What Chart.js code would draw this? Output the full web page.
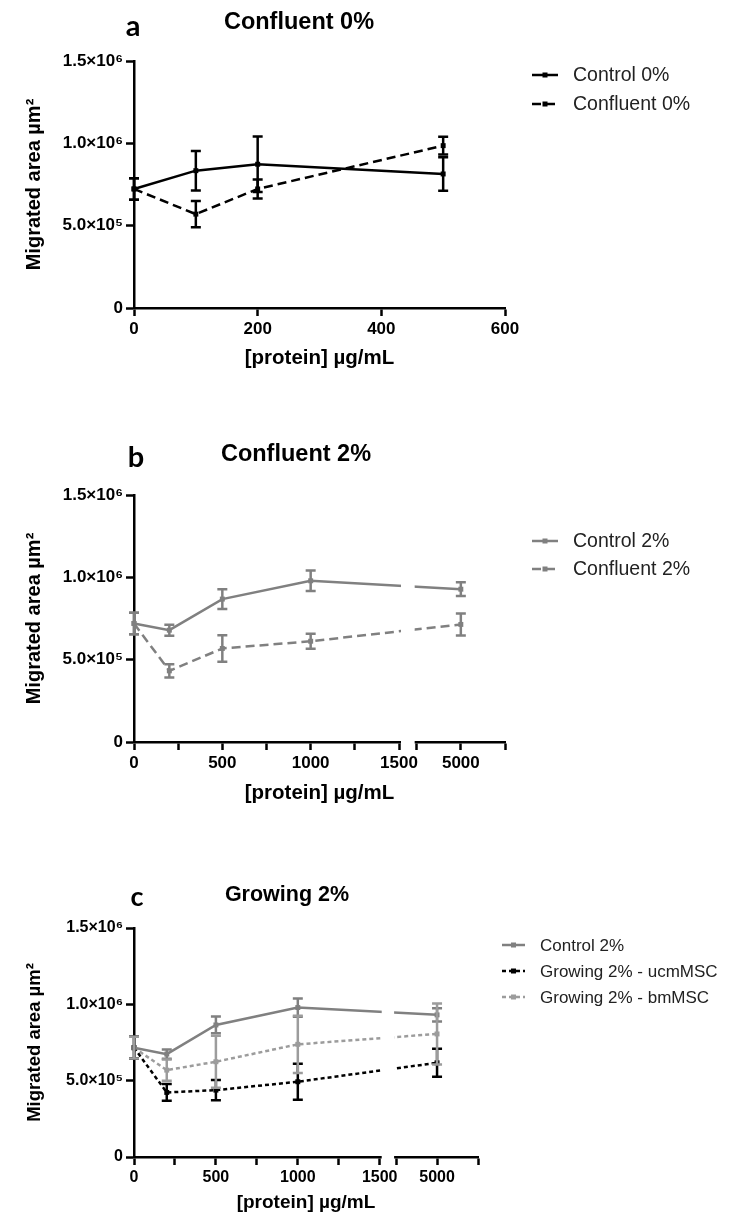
<!DOCTYPE html>
<html>
<head>
<meta charset="utf-8">
<script src="https://cdn.jsdelivr.net/npm/chart.js@4.4.1/dist/chart.umd.min.js"></script>
<style>
  html, body { margin: 0; padding: 0; background: #fff; }
  body { width: 738px; height: 1214px; position: relative; overflow: hidden; }
  canvas { position: absolute; left: 0; }
</style>
</head>
<body>
<canvas id="chartA" width="738" height="380" style="top:0px"></canvas>
<canvas id="chartB" width="738" height="390" style="top:420px"></canvas>
<canvas id="chartC" width="738" height="354" style="top:860px"></canvas>
<script>
// --- data ---
// a: Confluent 0%
const doseA = [0, 100, 200, 500];
const control0 = [723000, 834000, 873000, 814000];
const control0Err = [65000, 120000, 168000, 102000];
const confluent0 = [723000, 570000, 723000, 986000];
const confluent0Err = [65000, 80000, 58000, 54000];

// b: Confluent 2%
const doseB = [0, 200, 500, 1000, 5000];
const control2 = [720000, 679000, 868000, 979000, 928000];
const control2Err = [65000, 33000, 60000, 62000, 42000];
const confluent2 = [720000, 432000, 568000, 612000, 714000];
const confluent2Err = [65000, 40000, 80000, 45000, 67000];

// c: Growing 2%
const controlC = [716000, 674000, 865000, 979000, 931000];
const controlCErr = [71000, 30000, 55000, 60000, 44000];
const ucmMSC = [716000, 423000, 438000, 493000, 617000];
const ucmMSCErr = [71000, 55000, 66000, 118000, 92000];
const bmMSC = [716000, 569000, 624000, 738000, 806000];
const bmMSCErr = [71000, 70000, 170000, 187000, 200000];

// axes
const yTicks = [0, 500000, 1000000, 1500000];
const yTickLabels = ['0', '5.0×10⁵', '1.0×10⁶', '1.5×10⁶'];
const xTicksA = [0, 200, 400, 600];
const xTicksBroken = [0, 250, 500, 750, 1000, 1250, 1500, 4750, 5000, 5250];
const xLabelsBroken = ['0', '', '500', '', '1000', '', '1500', '', '5000', ''];

// broken x axis: 0-1500 linear, gap, then a short segment around 5000
const BREAK_AT = 1500;
const SEG2_FROM = 4750;
const SEG2_TO = 5250;
const GAP = 100;
const toAxis = (x) => (x <= BREAK_AT ? x : BREAK_AT + GAP + (x - SEG2_FROM));

const FAMILY = '"Liberation Sans", Arial, sans-serif';
const GREY = '#808080';
const LIGHT_GREY = '#9c9c9c';

const pts = (xs, ys) => xs.map((x, i) => ({ x: toAxis(x), y: ys[i] }));

const errorBars = {
  id: 'errorBars',
  afterDatasetsDraw(chart) {
    const { ctx } = chart;
    const yScale = chart.scales.y;
    chart.data.datasets.forEach((ds, i) => {
      if (!ds.errors) return;
      const meta = chart.getDatasetMeta(i);
      ctx.save();
      ctx.strokeStyle = ds.borderColor;
      ctx.lineWidth = ds.borderWidth;
      ctx.setLineDash([]);
      meta.data.forEach((pt, j) => {
        const v = ds.data[j].y;
        const e = ds.errors[j];
        const top = yScale.getPixelForValue(v + e);
        const bot = yScale.getPixelForValue(v - e);
        const cap = 5;
        ctx.beginPath();
        ctx.moveTo(pt.x, top);
        ctx.lineTo(pt.x, bot);
        ctx.moveTo(pt.x - cap, top);
        ctx.lineTo(pt.x + cap, top);
        ctx.moveTo(pt.x - cap, bot);
        ctx.lineTo(pt.x + cap, bot);
        ctx.stroke();
      });
      ctx.restore();
    });
  },
};

const axisBreak = {
  id: 'axisBreak',
  afterDraw(chart, args, opts) {
    if (!opts.on) return;
    const { ctx, chartArea } = chart;
    const x = chart.scales.x;
    const x1 = x.getPixelForValue(toAxis(BREAK_AT)) + 2;
    const x2 = x.getPixelForValue(toAxis(SEG2_FROM)) - 2;
    ctx.save();
    ctx.fillStyle = '#fff';
    ctx.fillRect(x1, chartArea.top - 4, x2 - x1, chartArea.bottom - chartArea.top + 7);
    ctx.restore();
  },
};

const panelDecor = {
  id: 'panelDecor',
  afterDraw(chart, args, o) {
    const { ctx } = chart;
    ctx.save();
    ctx.textBaseline = 'middle';
    ctx.textAlign = 'center';
    ctx.fillStyle = '#000';
    ctx.font = 'bold ' + o.letterSize + 'px Lato, "Open Sans", sans-serif';
    ctx.fillText(o.letter, o.letterX, o.letterY);
    ctx.font = 'bold ' + o.titleSize + 'px ' + FAMILY;
    ctx.fillText(o.title, o.titleX, o.titleY);
    // legend
    chart.data.datasets.forEach((ds, i) => {
      const y = o.legendY + i * o.legendGap;
      ctx.strokeStyle = ds.borderColor;
      ctx.lineWidth = ds.borderWidth;
      ctx.setLineDash(ds.borderDash || []);
      ctx.beginPath();
      ctx.moveTo(o.legendX, y);
      ctx.lineTo(o.legendX + o.sampleW, y);
      ctx.stroke();
      ctx.setLineDash([]);
      ctx.fillStyle = ds.borderColor;
      ctx.fillRect(o.legendX + o.sampleW / 2 - 2.5, y - 2.5, 5, 5);
      ctx.fillStyle = '#222';
      ctx.textAlign = 'left';
      ctx.font = o.legendSize + 'px ' + FAMILY;
      ctx.fillText(ds.label, o.legendX + o.sampleW + 15, y + 1);
    });
    ctx.restore();
  },
};

function series(label, xs, ys, errs, color, dash) {
  return {
    label,
    data: pts(xs, ys),
    errors: errs,
    borderColor: color,
    backgroundColor: color,
    borderWidth: 2.5,
    borderDash: dash,
    pointStyle: 'rect',
    pointRadius: 3.5,
    pointBorderWidth: 0,
    tension: 0,
    fill: false,
    clip: false,
  };
}

function makePanel(id, p) {
  const tickFont = { family: FAMILY, size: p.tickSize, weight: 'bold' };
  return new Chart(document.getElementById(id), {
    type: 'line',
    data: { datasets: p.datasets },
    plugins: [errorBars, axisBreak, panelDecor],
    options: {
      responsive: false,
      animation: false,
      events: [],
      layout: { padding: { left: 0, top: p.top, right: p.right, bottom: 0 } },
      scales: {
        x: {
          type: 'linear',
          min: 0,
          max: p.xMax,
          afterBuildTicks: (s) => { s.ticks = p.xTicks.map((v) => ({ value: toAxis(v) })); },
          afterFit: (s) => { s.height = p.xHeight; },
          ticks: {
            autoSkip: false,
            maxRotation: 0,
            color: '#000',
            font: tickFont,
            padding: 3,
            callback: (v, i) => p.xLabels[i],
          },
          grid: { drawOnChartArea: false, tickLength: 8, tickWidth: 2.5, tickColor: '#000' },
          border: { color: '#000', width: 2.5 },
          title: {
            display: true,
            text: '[protein] µg/mL',
            color: '#000',
            font: { family: FAMILY, size: p.axisTitleSize, weight: 'bold' },
            padding: { top: 0, bottom: p.xTitlePad },
          },
        },
        y: {
          min: 0,
          max: 1500000,
          afterBuildTicks: (s) => { s.ticks = yTicks.map((v) => ({ value: v })); },
          afterFit: (s) => { s.width = 134; },
          ticks: {
            color: '#000',
            font: tickFont,
            padding: 3,
            callback: (v, i) => yTickLabels[i],
          },
          grid: { drawOnChartArea: false, tickLength: 8, tickWidth: 2.5, tickColor: '#000' },
          border: { color: '#000', width: 2.5 },
          title: {
            display: true,
            text: 'Migrated area µm²',
            color: '#000',
            font: { family: FAMILY, size: p.yTitleSize, weight: 'bold' },
            padding: { top: p.yTitlePad, bottom: 0 },
          },
        },
      },
      plugins: {
        legend: { display: false },
        tooltip: { enabled: false },
        axisBreak: { on: p.broken },
        panelDecor: p.decor,
      },
    },
  });
}

makePanel('chartA', {
  top: 61, right: 233, xMax: 600, xHeight: 72,
  xTicks: xTicksA, xLabels: xTicksA.map(String), broken: false,
  tickSize: 17, axisTitleSize: 20.5, xTitlePad: 9.7, yTitleSize: 20, yTitlePad: 22,
  datasets: [
    series('Control 0%', doseA, control0, control0Err, '#000', []),
    series('Confluent 0%', doseA, confluent0, confluent0Err, '#000', [9, 5]),
  ],
  decor: {
    letter: 'a', letterX: 133, letterY: 27, letterSize: 29,
    title: 'Confluent 0%', titleX: 299, titleY: 23, titleSize: 23.5,
    legendX: 532, legendY: 75, legendGap: 29, sampleW: 26, legendSize: 19.5,
  },
});

makePanel('chartB', {
  top: 75, right: 233, xMax: toAxis(SEG2_TO), xHeight: 68,
  xTicks: xTicksBroken, xLabels: xLabelsBroken, broken: true,
  tickSize: 17, axisTitleSize: 20.5, xTitlePad: 4.7, yTitleSize: 20, yTitlePad: 22,
  datasets: [
    series('Control 2%', doseB, control2, control2Err, GREY, []),
    series('Confluent 2%', doseB, confluent2, confluent2Err, GREY, [9, 5]),
  ],
  decor: {
    letter: 'b', letterX: 136, letterY: 38, letterSize: 29,
    title: 'Confluent 2%', titleX: 296, titleY: 35, titleSize: 23.5,
    legendX: 532, legendY: 121, legendGap: 28, sampleW: 26, legendSize: 19.5,
  },
});

makePanel('chartC', {
  top: 68, right: 260, xMax: toAxis(SEG2_TO), xHeight: 57,
  xTicks: xTicksBroken, xLabels: xLabelsBroken, broken: true,
  tickSize: 16, axisTitleSize: 19, xTitlePad: 0, yTitleSize: 18.5, yTitlePad: 24,
  datasets: [
    series('Control 2%', doseB, controlC, controlCErr, GREY, []),
    series('Growing 2% - ucmMSC', doseB, ucmMSC, ucmMSCErr, '#000', [4, 3]),
    series('Growing 2% - bmMSC', doseB, bmMSC, bmMSCErr, LIGHT_GREY, [4, 3]),
  ],
  decor: {
    letter: 'c', letterX: 137, letterY: 37, letterSize: 27,
    title: 'Growing 2%', titleX: 287, titleY: 35, titleSize: 21.5,
    legendX: 502, legendY: 85, legendGap: 26, sampleW: 23, legendSize: 17,
  },
});
</script>
</body>
</html>
